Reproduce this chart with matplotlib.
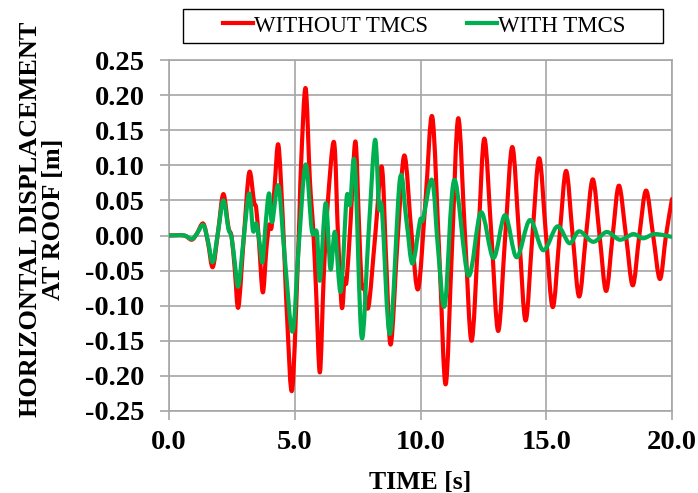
import matplotlib
matplotlib.use("Agg")
import matplotlib.pyplot as plt
from matplotlib.patches import Rectangle, PathPatch
from matplotlib.path import Path
from matplotlib.lines import Line2D

plt.rcParams['font.family'] = ['Liberation Serif', 'DejaVu Serif']
plt.rcParams['axes.unicode_minus'] = False

# ---- data ----
red_t = [0.0, 0.6, 0.9, 1.1, 1.36, 1.55, 1.74, 1.95, 2.16, 2.36, 2.49, 2.62, 2.76, 2.98,
         3.19, 3.38, 3.47, 3.58, 3.73, 3.87, 3.98, 4.08, 4.2, 4.35, 4.53, 4.7, 4.9, 5.15,
         5.25, 5.43, 5.6, 5.74, 5.85, 6.0, 6.15, 6.3, 6.56, 6.72, 6.87, 6.98, 7.06, 7.22,
         7.41, 7.55, 7.66, 7.76, 7.93, 8.2, 8.46, 8.64, 8.82, 9.1, 9.36, 9.65, 9.91, 10.2,
         10.47, 10.75, 11.0, 11.25, 11.5, 11.77, 12.03, 12.3, 12.54, 12.82, 13.09, 13.37,
         13.65, 13.92, 14.18, 14.45, 14.72, 14.99, 15.26, 15.53, 15.79, 16.05, 16.31, 16.58,
         16.85, 17.12, 17.38, 17.64, 17.89, 18.17, 18.44, 18.7, 18.97, 19.25, 19.52, 19.76, 20.0]
red_y = [0.000, 0.000, -0.006, 0.002, 0.017, -0.010, -0.045, 0.005, 0.059, 0.012, -0.002, -0.050, -0.102, 0.000,
         0.090, 0.048, 0.038, -0.010, -0.081, -0.020, 0.015, 0.012, 0.070, 0.129, 0.019, -0.120, -0.219, -0.010,
         0.100, 0.210, 0.080, 0.005, -0.080, -0.195, -0.060, 0.040, 0.133, 0.000, -0.102, -0.062, -0.065, 0.020,
         0.134, 0.020, -0.069, -0.072, -0.102, 0.000, 0.098, -0.040, -0.155, 0.000, 0.114, 0.000, -0.076, 0.050,
         0.169, -0.030, -0.212, -0.020, 0.167, 0.000, -0.150, 0.000, 0.138, 0.000, -0.136, 0.000,
         0.126, 0.000, -0.121, 0.000, 0.110, 0.000, -0.102, 0.000, 0.092, 0.000, -0.087, 0.000,
         0.080, 0.000, -0.079, 0.000, 0.071, 0.000, -0.071, 0.000, 0.064, 0.000, -0.062, 0.000, 0.052]

green_t = [0.0, 0.6, 0.9, 1.1, 1.36, 1.55, 1.74, 1.95, 2.16, 2.36, 2.49, 2.62, 2.76, 2.98,
           3.19, 3.34, 3.47, 3.6, 3.72, 3.85, 3.98, 4.1, 4.35, 4.6, 4.91, 5.15, 5.43, 5.68,
           5.88, 6.0, 6.23, 6.42, 6.6, 6.83, 7.06, 7.2, 7.39, 7.66, 7.93, 8.19, 8.35, 8.47,
           8.79, 9.18, 9.44, 9.68, 9.98, 10.1, 10.46, 10.7, 10.97, 11.34, 11.9, 12.4, 12.9,
           13.36, 13.82, 14.35, 14.88, 15.44, 15.92, 16.31, 16.87, 17.4, 17.93, 18.46, 18.85,
           19.32, 20.0]
green_y = [0.000, 0.000, -0.005, 0.002, 0.015, -0.008, -0.038, 0.005, 0.050, 0.010, -0.003, -0.040, -0.072, 0.000,
           0.060, 0.007, 0.017, -0.010, -0.038, 0.020, 0.060, 0.019, 0.071, -0.030, -0.137, -0.020, 0.101, 0.007,
           0.004, -0.064, 0.046, -0.048, 0.005, -0.080, 0.053, 0.044, 0.102, -0.145, 0.000, 0.136, 0.040, 0.036,
           -0.140, 0.080, 0.021, -0.040, 0.021, 0.023, 0.079, -0.020, -0.099, 0.079, -0.057, 0.033, -0.032,
           0.029, -0.031, 0.022, -0.021, 0.013, -0.011, 0.006, -0.009, 0.005, -0.006, 0.002, -0.004,
           0.002, -0.002]

x_ticks = [0.0, 5.0, 10.0, 15.0, 20.0]
y_ticks = [-0.25, -0.20, -0.15, -0.10, -0.05, 0.00, 0.05, 0.10, 0.15, 0.20, 0.25]
series_names = ['WITHOUT TMCS', 'WITH TMCS']


def smooth_path(xs, ys):
    """Smoothed line through the data points (like a spreadsheet 'smoothed line'),
    drawn as cubic Bezier segments passing through every point."""
    pts = list(zip(xs, ys))
    n = len(pts)
    verts = [pts[0]]
    codes = [Path.MOVETO]
    for i in range(n - 1):
        p0 = pts[i - 1] if i > 0 else pts[i]
        p1 = pts[i]
        p2 = pts[i + 1]
        p3 = pts[i + 2] if i + 2 < n else pts[i + 1]
        c1 = (p1[0] + (p2[0] - p0[0]) / 6.0, p1[1] + (p2[1] - p0[1]) / 6.0)
        c2 = (p2[0] - (p3[0] - p1[0]) / 6.0, p2[1] - (p3[1] - p1[1]) / 6.0)
        verts += [c1, c2, p2]
        codes += [Path.CURVE4, Path.CURVE4, Path.CURVE4]
    return Path(verts, codes)


# ---- figure ----
W, H = 698, 493
fig = plt.figure(figsize=(W / 100, H / 100), dpi=100)
ax = fig.add_axes([169 / W, 1 - 411 / H, (672 - 169) / W, (411 - 60) / H])

grid_c = '#A6A6A6'
red_c = '#FF0000'
green_c = '#00B050'
lw = 3.0

ax.add_patch(PathPatch(smooth_path(red_t, red_y), fill=False, edgecolor=red_c, lw=lw,
                       joinstyle='round', capstyle='round', zorder=3))
ax.add_patch(PathPatch(smooth_path(green_t, green_y), fill=False, edgecolor=green_c, lw=lw,
                       joinstyle='round', capstyle='round', zorder=4))

ax.set_xlim(0, 20)
ax.set_ylim(-0.25, 0.25)
ax.set_xticks(x_ticks)
ax.set_yticks(y_ticks)
ax.set_xticklabels([f'{v:.1f}' for v in x_ticks])
ax.set_yticklabels([f'{v:.2f}' for v in y_ticks])
ax.grid(True, color=grid_c, lw=1.2, zorder=0)
ax.set_axisbelow(True)
for s in ax.spines.values():
    s.set_color(grid_c)
    s.set_linewidth(1.2)
ax.tick_params(axis='both', direction='out', length=6.5, width=1.2, color=grid_c,
               labelsize=20.5)
ax.tick_params(axis='y', pad=11)
ax.tick_params(axis='x', pad=7)
for lab in ax.get_xticklabels() + ax.get_yticklabels():
    lab.set_fontweight('bold')

fig.text(420.5 / W, 4 / H, 'TIME [s]', ha='center', va='baseline', fontsize=18.5,
         fontweight='bold')
fig.text(42 / W, 1 - 219 / H, 'HORIZONTAL DISPLACEMENT\nAT ROOF [m]', rotation=90,
         ha='center', va='center', multialignment='center', fontsize=18.9,
         fontweight='bold', linespacing=1.05)

# legend box
fig.patches.append(Rectangle((183 / W, 1 - 43 / H), (663 - 183) / W, 34 / H,
                             transform=fig.transFigure, fill=False, edgecolor='black',
                             lw=1.0))
handles = [Line2D([], [], color=red_c, lw=lw), Line2D([], [], color=green_c, lw=lw)]
fig.legend(handles, series_names, loc='center', bbox_to_anchor=(424 / W, 1 - 26 / H),
           ncol=2, frameon=False, fontsize=16.5, handlelength=1.3, handletextpad=0.05,
           columnspacing=1.7, borderpad=0.0)

fig.savefig('out.png', dpi=100)
